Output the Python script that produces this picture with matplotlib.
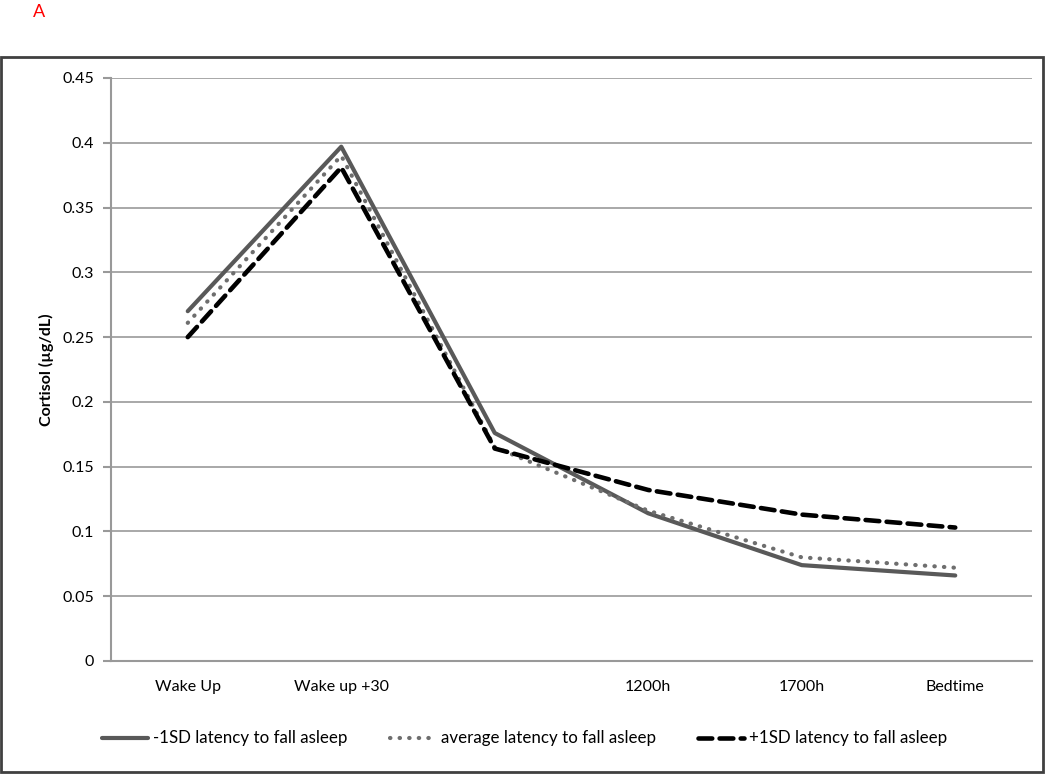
import matplotlib
matplotlib.use('Agg')
import matplotlib.pyplot as plt
from matplotlib.patches import Rectangle

plt.rcParams['font.family'] = ['Lato', 'DejaVu Sans']

categories = ['Wake Up', 'Wake up +30', '', '1200h', '1700h', 'Bedtime']
minus_sd = [0.270, 0.397, 0.176, 0.114, 0.074, 0.066]
average = [0.261, 0.390, 0.165, 0.116, 0.080, 0.072]
plus_sd = [0.250, 0.381, 0.164, 0.132, 0.113, 0.103]
yticks = [0, 0.05, 0.1, 0.15, 0.2, 0.25, 0.3, 0.35, 0.4, 0.45]
ytick_labels = ['0', '0.05', '0.1', '0.15', '0.2', '0.25', '0.3', '0.35', '0.4', '0.45']

fig = plt.figure(figsize=(10.5, 7.74), dpi=100)
ax = fig.add_axes([111 / 1050, 1 - 661 / 774, 921 / 1050, 583 / 774])

x = range(len(categories))
ax.plot(x, minus_sd, color='#595959', lw=3, solid_capstyle='round',
        label='-1SD latency to fall asleep')
ax.plot(x, average, color='#6e6e6e', lw=3, linestyle=(0, (0.1, 2.2)),
        dash_capstyle='round', label='average latency to fall asleep')
ax.plot(x, plus_sd, color='black', lw=3.3, linestyle=(0, (3, 1.6)),
        dash_capstyle='round', label='+1SD latency to fall asleep')

ax.set_xlim(-0.5, 5.5)
ax.set_ylim(0, 0.45)
ax.set_xticks(list(x))
ax.set_xticklabels(categories, fontsize=11.5)
ax.set_yticks(yticks)
ax.set_yticklabels(ytick_labels, fontsize=11.5)
ax.tick_params(axis='x', length=0, pad=14)
ax.tick_params(axis='y', length=6, color='#999999', width=1.5, pad=6)
ax.grid(axis='y', color='#999999', lw=1.2)
ax.set_axisbelow(True)
for side in ['top', 'right']:
    ax.spines[side].set_visible(False)
ax.spines['left'].set_color('#999999')
ax.spines['left'].set_linewidth(1.5)
ax.spines['bottom'].set_color('#999999')
ax.spines['bottom'].set_linewidth(1.5)
ax.set_ylabel('Cortisol (µg/dL)', fontsize=11.5, fontweight='bold', labelpad=6)

ax.legend(loc='upper center', bbox_to_anchor=(0.449, -0.093), ncol=3, frameon=False,
          fontsize=12.2, handlelength=2.7, columnspacing=2.5, handletextpad=0.3)

# outer chart border
fig.patches.append(Rectangle((1 / 1050, 2 / 774), 1042 / 1050, 715 / 774,
                             transform=fig.transFigure, fill=False,
                             edgecolor='#404040', lw=2))
fig.text(33 / 1050, 1 - 12 / 774, 'A', color='red', fontsize=13, va='center')

fig.savefig('out.png', dpi=100)
